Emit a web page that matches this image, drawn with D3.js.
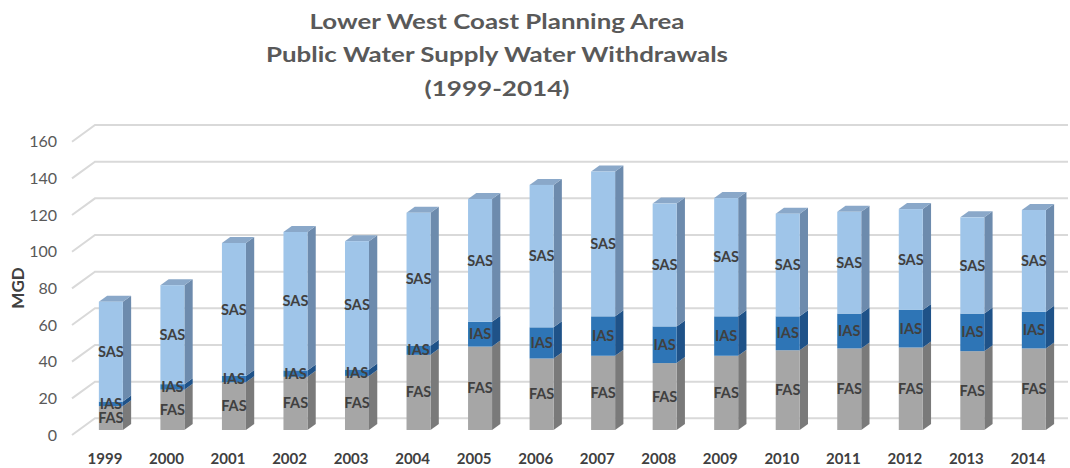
<!DOCTYPE html>
<html><head><meta charset="utf-8">
<script src="https://cdn.jsdelivr.net/npm/d3@7"></script>
<style>
html,body{margin:0;padding:0;background:#fff;}
svg{display:block;font-family:Lato,"Open Sans",sans-serif;}
</style></head>
<body>
<svg id="chart" width="1070" height="468"></svg>
<script>
const titleLines = ["Lower West Coast Planning Area","Public Water Supply Water Withdrawals","(1999-2014)"];
const years = ["1999","2000","2001","2002","2003","2004","2005","2006","2007","2008","2009","2010","2011","2012","2013","2014"];
const fas = [13, 22, 26, 29, 29.5, 41, 45.5, 39, 40.5, 36.5, 40.5, 43.5, 44.5, 45, 43, 44.5];
const ias = [2.5, 3, 3.5, 3.5, 3.5, 5, 13.5, 17, 21.5, 20, 21.5, 18.5, 19, 20.5, 20.5, 20];
const sas = [54.5, 54, 72.5, 75.5, 70, 72.5, 67, 77.7, 79, 67, 64.5, 56, 55.5, 55, 52.5, 55.5];
const yTicks = [0,20,40,60,80,100,120,140,160];
const seriesNames = ["FAS","IAS","SAS"];

const svg = d3.select("#chart");

// geometry
const depthDX = 23, depthDY = -16.7;           // floor front -> back wall
const yl = d3.scaleLinear().domain([0,160]).range([435, 435-293.3]); // label plane
const x = d3.scaleBand().domain(years).range([73.2, 1057.7]).padding(0);
const barW = 24;
const frontD = 0.3, backD = 0.66;
const off = d => [depthDX*d, depthDY*d];

// title
const titleWidths = [375, 462, 145];
svg.append("g").selectAll("text").data(titleLines).join("text")
  .attr("x", 497).attr("y", (d,i)=> [28.5, 62, 96][i])
  .attr("text-anchor","middle")
  .attr("font-size", 21.5).attr("font-weight","bold")
  .attr("fill","#595959")
  .attr("textLength", (d,i)=>titleWidths[i]).attr("lengthAdjust","spacingAndGlyphs")
  .text(d=>d);

// gridlines (floor edge + back wall)
const gx0 = 72, gx1 = 1068;
svg.append("g").selectAll("path").data(yTicks).join("path")
  .attr("d", v => {
    const y0 = yl(v), [dx,dy] = off(1);
    return `M${gx0},${y0}L${gx0+dx},${y0+dy}L${gx1},${y0+dy}`;
  })
  .attr("fill","none").attr("stroke","#d9d9d9").attr("stroke-width",2);

// y axis labels
const yAxis = svg.append("g").attr("transform","translate(57,0)")
  .call(d3.axisLeft(yl).tickValues(yTicks).tickSize(0).tickPadding(0).tickFormat(d3.format("d")));
yAxis.select(".domain").remove();
yAxis.selectAll("text").attr("font-family","Lato,sans-serif").attr("font-size",16).attr("fill","#595959");

// y title
svg.append("text").attr("transform","translate(24,288) rotate(-90)")
  .attr("text-anchor","middle").attr("font-size",17).attr("font-weight","bold").attr("fill","#404040")
  .text("MGD");

// x axis labels
const xAxis = svg.append("g").attr("transform","translate(1,453)")
  .call(d3.axisBottom(x).tickSize(0).tickPadding(0));
xAxis.select(".domain").remove();
xAxis.selectAll("text").attr("font-family","Lato,sans-serif").attr("font-size",15).attr("font-weight","bold").attr("fill","#404040");

// stacked data
const rows = years.map((y,i)=>({year:y, FAS:fas[i], IAS:ias[i], SAS:sas[i]}));
const stack = d3.stack().keys(seriesNames)(rows);
const colors = {
  FAS:{front:"#a6a6a6", side:"#7a7a7a", top:"#bdbdbd"},
  IAS:{front:"#2e75b6", side:"#1f5288", top:"#3a7fc0"},
  SAS:{front:"#9fc5e9", side:"#6d8bad", top:"#8aa8c9"}
};
const [fdx,fdy] = off(frontD);
const [bdx,bdy] = off(backD);
const ddx = bdx - fdx, ddy = bdy - fdy;
const yFront = v => yl(v) + fdy;

const bars = svg.append("g");
stack.forEach((layer, li) => {
  const key = layer.key;
  const g = bars.append("g");
  layer.forEach((seg, i) => {
    const xl = x(years[i]) + x.bandwidth()/2 - barW/2 + fdx;
    const xr = xl + barW;
    const yt = yFront(seg[1]), yb = yFront(seg[0]);
    g.append("path").attr("d",`M${xr},${yt}L${xr+ddx},${yt+ddy}L${xr+ddx},${yb+ddy}L${xr},${yb}Z`)
      .attr("fill", colors[key].side);
    if (li === stack.length-1) {
      g.append("path").attr("d",`M${xl},${yt}L${xl+ddx},${yt+ddy}L${xr+ddx},${yt+ddy}L${xr},${yt}Z`)
        .attr("fill", colors[key].top);
    }
    g.append("rect").attr("x", xl).attr("y", yt).attr("width", barW).attr("height", yb-yt)
      .attr("fill", colors[key].front);
  });
});

// segment labels
stack.forEach(layer => {
  const key = layer.key;
  bars.append("g").selectAll("text").data(layer).join("text")
    .attr("x", (seg,i)=> x(years[i]) + x.bandwidth()/2 + fdx)
    .attr("y", seg => (yFront(seg[0]) + yFront(seg[1]))/2)
    .attr("dy","0.35em")
    .attr("text-anchor","middle")
    .attr("font-size",14.5).attr("font-weight","bold").attr("fill","#404040")
    .text(key);
});
</script>
</body></html>
